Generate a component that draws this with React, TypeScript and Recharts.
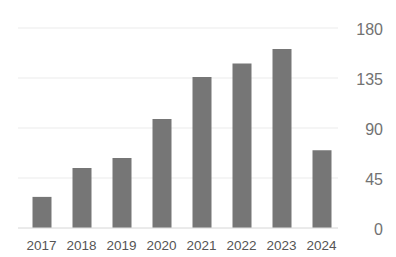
import { BarChart, Bar, CartesianGrid, XAxis, YAxis } from "recharts";

const years = ["2017", "2018", "2019", "2020", "2021", "2022", "2023", "2024"];
const counts = [28, 54, 63, 98, 136, 148, 161, 70];
const yTicks = [0, 45, 90, 135, 180];

const data = years.map((year, i) => ({ year, count: counts[i] }));

function YearTick({ x, y, payload }: any) {
  return (
    <text x={x} y={y + 14} textAnchor="middle" fill="#555" fontSize={13.5}>
      {payload.value}
    </text>
  );
}

function ValueTick({ y, payload }: any) {
  return (
    <text x={383} y={y + 7} textAnchor="end" fill="#727272" fontSize={16}>
      {payload.value}
    </text>
  );
}

export default function App() {
  return (
    <div
      style={{
        position: "absolute",
        left: 0,
        top: 0,
        fontFamily: "'Liberation Sans', Arial, sans-serif",
      }}
    >
      <BarChart
        width={396}
        height={257}
        data={data}
        margin={{ top: 28, right: 0, left: 18, bottom: 0 }}
      >
        <CartesianGrid vertical={false} stroke="#ebebeb" />
        <XAxis
          dataKey="year"
          height={29}
          tickLine={false}
          axisLine={{ stroke: "#e0e0e0" }}
          tick={<YearTick />}
          interval={0}
          padding={{ left: 3.5, right: -3.5 }}
        />
        <YAxis
          orientation="right"
          width={58}
          domain={[0, 180]}
          ticks={yTicks}
          axisLine={false}
          tickLine={false}
          tick={<ValueTick />}
        />
        <Bar
          dataKey="count"
          fill="#767676"
          barSize={19}
          isAnimationActive={false}
        />
      </BarChart>
    </div>
  );
}
